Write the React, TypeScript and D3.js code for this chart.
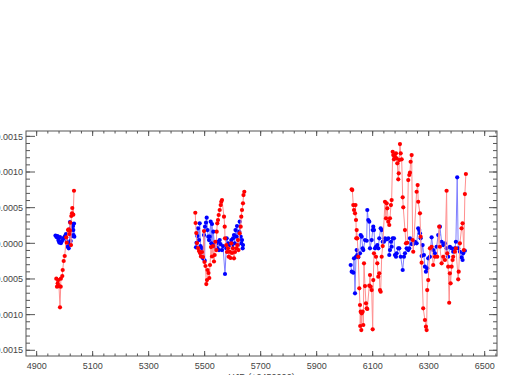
import React from 'react';
import * as d3 from 'd3';

// HJD - 2450000 and residuals (units of 1e-4 mag)
const redHJD = [
  4970.2, 4972.7, 4975.2, 4977.3, 4979.8, 4983.4, 4985.9, 4986.5, 4991.6, 4993.0, 4996.6, 5000.2, 5005.9,
  5007.3, 5012.0, 5014.5, 5016.6, 5019.1, 5020.2, 5022.7, 5023.8, 5026.3, 5027.3, 5030.9, 5033.4,
  5466.6, 5467.6, 5470.1, 5472.6, 5476.2, 5479.8, 5483.4, 5486.9, 5490.5, 5494.1, 5497.6, 5499.4, 5503.0,
  5505.9, 5508.4, 5510.1, 5513.7, 5516.6, 5519.1, 5522.6, 5526.2, 5529.8, 5533.3, 5535.8, 5538.0, 5541.6,
  5543.0, 5545.1, 5547.6, 5550.1, 5553.7, 5557.3, 5559.4, 5561.9, 5569.0, 5571.6, 5572.6, 5577.3, 5579.8,
  5583.3, 5585.8, 5589.4, 5592.3, 5595.1, 5597.6, 5601.2, 5604.8, 5608.3, 5613.0, 5616.5, 5619.0, 5620.8,
  5625.1, 5628.7, 5630.8, 5633.3, 5636.9, 5638.7, 5641.6,
  6025.1, 6027.2, 6030.8, 6033.3, 6036.9, 6038.6, 6040.4, 6041.5, 6042.9, 6045.1, 6048.6, 6052.2, 6054.7,
  6055.5, 6057.2, 6059.4, 6060.8, 6064.3, 6066.5, 6069.0, 6072.6, 6076.1, 6078.6, 6080.8, 6087.9, 6090.4,
  6092.9, 6096.5, 6100.1, 6102.2, 6104.7, 6111.8, 6116.5, 6120.1, 6123.6, 6126.1, 6128.6, 6132.2, 6135.8,
  6144.0, 6147.6, 6150.1, 6152.2, 6155.8, 6159.3, 6161.8, 6165.3, 6167.8, 6171.5, 6173.6, 6176.1, 6179.6,
  6183.2, 6185.7, 6187.9, 6191.4, 6193.2, 6195.0, 6197.5, 6200.0, 6203.6, 6207.2, 6209.3, 6215.3, 6218.9,
  6223.5, 6227.1, 6230.7, 6233.1, 6235.6, 6239.2, 6242.8, 6244.9, 6257.0, 6260.6, 6262.7, 6268.8, 6271.3,
  6274.8, 6280.5, 6286.6, 6290.2, 6292.7, 6294.8, 6298.4, 6304.4, 6310.5, 6316.2, 6322.3, 6330.5, 6337.6,
  6340.1, 6346.2, 6351.9, 6358.0, 6364.0, 6366.2, 6369.7, 6373.3, 6375.8, 6378.3, 6381.9, 6385.4, 6387.6,
  6393.6, 6397.2, 6405.4, 6407.2, 6411.5, 6417.5, 6421.1, 6425.7, 6429.3, 6432.9,
];
const redRes = [
  -4.96, -6.08, -5.61, -5.15, -5.99, -8.97, -6.08, -4.96, -4.58, -3.74, -2.48, -1.78, 0.84,
  0.08, 1.86, 1.96, 1.30, 1.77, 2.89, -0.24, 3.83, 4.21, 4.95, 4.01, 7.37,
  4.29, 2.85, 1.44, 0.04, -0.66, -1.08, -1.36, -1.85, -1.22, -1.92, 1.72, -2.62, -3.18,
  -5.71, -5.15, -3.74, -4.16, -4.86, -3.04, -0.52, -1.85, -0.38, -2.55, -1.64, 0.22, -0.94,
  1.63, 2.80, 3.27, 3.97, 4.67, 5.37, 5.83, 6.07, 3.73, 2.33, 0.70, -0.24, -1.22,
  -0.70, -1.88, -1.18, -2.06, 0.0, -1.36, -0.70, -2.10, -1.22, -0.70, -0.24, 0.46, -0.94,
  1.40, 2.33, 3.73, 4.67, 5.61, 6.77, 7.23,
  7.57, 7.47, 5.37, 4.67, 4.21, 5.37, 3.27, 0.70, 1.86, 0.70, -1.88, -6.31, -8.65,
  -11.59, -9.59, -12.16, -9.81, -9.59, -11.45, -2.80, -5.99, -8.41, -9.11, -9.21, -5.94, -4.44,
  -6.08, -6.55, -12.06, -5.15, -1.40, -1.88, -2.80, -4.68, -4.21, -6.55, -6.79, -1.88, -0.38,
  5.83, 3.51, 5.61, 4.91, 3.03, 2.57, 3.51, 5.37, 6.07, 12.84, 12.38, 11.78, 12.14,
  12.62, 11.92, 11.22, 8.97, 9.81, 11.68, 13.92, 12.62, 11.78, 6.45, 5.05, 1.86, 0.0,
  0.08, 8.87, 9.58, 9.90, 11.44, 12.38, 0.46, -1.18, 7.23, 8.17, 5.83, 4.21, 0.93,
  -2.72, -9.11, -10.75, -11.69, -12.16, -6.55, -5.15, -0.70, -0.48, -3.04, -1.88, -1.88, 2.33,
  -0.48, -2.80, -1.88, -2.34, 7.37, -1.40, -3.28, -8.33, -4.21, -5.61, -3.28, -2.34, -1.88,
  -1.18, -0.70, -5.05, -3.98, 0.0, 2.10, 2.80, -0.94, 6.91, 9.72,
];

const blueHJD = [
  4967.3, 4970.9, 4974.5, 4976.3, 4978.1, 4980.9, 4983.4, 4987.0, 4990.6, 4994.1, 4997.7, 5001.3, 5004.8,
  5007.3, 5010.9, 5014.5, 5017.3, 5019.1, 5021.6, 5023.8, 5026.3, 5028.1, 5029.8, 5030.9, 5031.6, 5033.4,
  5034.5,
  5469.1, 5470.9, 5473.7, 5476.2, 5479.8, 5482.3, 5485.1, 5488.0, 5490.5, 5494.1, 5497.6, 5500.1, 5501.2,
  5504.8, 5507.3, 5510.1, 5513.0, 5515.5, 5518.0, 5521.6, 5523.7, 5526.2, 5529.8, 5530.9, 5535.8, 5541.6,
  5544.0, 5547.6, 5551.2, 5553.7, 5556.6, 5561.9, 5565.5, 5572.6, 5577.3, 5578.7, 5584.4, 5589.4, 5595.1,
  5597.6, 5601.2, 5604.8, 5607.3, 5610.1, 5613.0, 5615.5, 5619.0, 5623.7, 5625.1, 5628.7, 5630.8, 5633.3,
  5635.8, 5636.9,
  6021.5, 6025.1, 6030.8, 6033.3, 6036.9, 6040.4, 6042.9, 6045.1, 6048.6, 6054.7, 6057.2, 6060.8, 6064.3,
  6066.5, 6072.6, 6078.6, 6080.8, 6084.3, 6087.9, 6090.4, 6096.5, 6100.1, 6102.2, 6104.7, 6108.3, 6111.8,
  6116.5, 6120.1, 6123.6, 6128.6, 6132.2, 6135.8, 6140.4, 6144.0, 6150.1, 6155.8, 6159.3, 6161.8, 6165.3,
  6167.8, 6171.5, 6176.1, 6179.6, 6183.2, 6185.7, 6191.4, 6195.0, 6200.0, 6207.2, 6211.8, 6215.3, 6221.4,
  6227.1, 6230.7, 6233.1, 6239.2, 6244.9, 6251.0, 6257.0, 6262.7, 6266.3, 6268.8, 6271.3, 6274.8, 6278.4,
  6283.0, 6286.6, 6290.2, 6294.8, 6298.4, 6304.4, 6310.5, 6316.2, 6322.3, 6328.3, 6334.0, 6340.1, 6346.2,
  6351.9, 6358.0, 6364.0, 6369.7, 6375.8, 6381.9, 6387.6, 6393.6, 6397.2, 6401.9, 6405.4, 6411.5, 6417.5,
  6421.1, 6423.2, 6429.3,
];
const blueRes = [
  1.09, 0.88, 1.02, 0.74, 0.39, 0.11, 0.88, 0.04, 0.32, 0.60, 0.81, 1.02, 1.30,
  0.32, -0.45, -0.70, 0.04, 2.99, 0.32, 2.14, 1.02, 2.71, 2.43, 1.86, 1.16, 2.78,
  0.93,
  -0.56, 0.08, 1.02, 2.10, 0.46, 2.80, -0.38, -1.64, -0.66, -2.10, 1.16, -2.44, 2.33,
  2.89, 3.59, 1.86, 0.93, 0.46, 0.93, 3.03, 0.0, 2.71, -0.24, 1.63, -0.48, 0.0,
  -0.66, 0.22, -0.94, 0.46, -0.10, -0.94, -0.38, -4.30, -0.70, 0.70, 0.0, -0.24, 0.46,
  -0.38, 0.70, 1.16, 0.0, 1.86, 0.93, 2.43, -0.24, 1.63, 3.03, 0.93, 0.0, 0.46,
  -0.70, -0.24,
  -3.04, -3.98, -4.12, -2.10, -7.01, -1.88, -0.94, -1.64, -1.96, -1.40, 1.16, 0.93, -0.70,
  -0.94, 0.46, 0.36, 4.67, 3.27, 3.03, -0.70, 0.46, 1.86, 2.33, 1.86, -0.70, -0.48,
  -0.24, -0.70, 0.70, 2.10, 1.86, 0.22, 0.22, 0.70, 0.56, 0.70, -1.64, -0.94, 0.22,
  -0.48, 0.70, 0.70, -1.64, -1.88, -1.40, -0.70, -0.70, -1.88, -3.74, -1.88, -1.40, -0.70,
  -0.94, -0.70, 0.70, -0.10, -0.10, 0.22, 0.0, 2.10, 1.86, 1.40, 0.70, -1.78, -0.24,
  -1.64, -3.28, -3.98, -3.51, -2.10, -1.88, 0.84, -0.94, -1.40, -0.48, 1.16, 2.33, 0.22,
  -0.24, 0.0, -0.70, -1.88, -0.48, -0.70, -1.18, -0.70, 0.22, 9.25, -0.70, -1.18, -1.96,
  -2.34, -1.40, -1.04,
];

const xMajor = [4900, 5100, 5300, 5500, 5700, 5900, 6100, 6300, 6500];
const yMajor = [-0.0015, -0.001, -0.0005, 0, 0.0005, 0.001, 0.0015];

const W = 525, H = 375;
const left = 26, right = 497, top = 131, bottom = 356;
const axisColor = '#555';
const textColor = '#444';

type Pt = { t: number; v: number };

// break the line where the time gap between seasons is large
function toSegments(ts: number[], vs: number[]): Pt[][] {
  const segs: Pt[][] = [];
  let cur: Pt[] = [];
  ts.forEach((t, i) => {
    if (cur.length && t - cur[cur.length - 1].t > 100) {
      segs.push(cur);
      cur = [];
    }
    cur.push({ t, v: vs[i] * 1e-4 });
  });
  if (cur.length) segs.push(cur);
  return segs;
}

export default function App() {
  const x = d3.scaleLinear().domain([4862, 6544]).range([left, right]);
  const y = d3.scaleLinear().domain([-0.00158, 0.001575]).range([bottom, top]);

  const line = d3.line<Pt>().x(d => x(d.t)).y(d => y(d.v));

  const xMinor = d3.range(4860, 6545, 40).filter(t => x(t) > left + 0.5 && x(t) < right - 0.5);
  const yMinor = d3.range(-15, 16, 1).map(k => k * 1e-4);

  const fmt = (v: number) => (Math.abs(v) < 1e-9 ? '0.0000' : d3.format('.4f')(v).replace('−', '-'));

  const series = [
    { ts: blueHJD, vs: blueRes, dot: '#0000ff', ln: '#7f7fff' },
    { ts: redHJD, vs: redRes, dot: '#ff0000', ln: '#ff8f8f' },
  ];

  return (
    <svg width={W} height={H} style={{ position: 'absolute', left: 0, top: 0, background: '#fff' }}
      fontFamily="'Liberation Sans', Arial, sans-serif">
      {series.map((s, si) => (
        <g key={si}>
          {toSegments(s.ts, s.vs).map((seg, k) => (
            <path key={k} d={line(seg) || ''} fill="none" stroke={s.ln} strokeWidth={1} />
          ))}
          {s.ts.map((t, i) => (
            <circle key={i} cx={x(t)} cy={y(s.vs[i] * 1e-4)} r={2.1} fill={s.dot} />
          ))}
        </g>
      ))}

      {/* frame */}
      <rect x={left} y={top} width={right - left} height={bottom - top} fill="none" stroke={axisColor} strokeWidth={1} />

      {/* x ticks, bottom and top */}
      {xMinor.map(t => (
        <g key={'xm' + t} stroke={axisColor} strokeWidth={1}>
          <line x1={x(t)} x2={x(t)} y1={bottom} y2={bottom - 2.5} />
          <line x1={x(t)} x2={x(t)} y1={top} y2={top + 2.5} />
        </g>
      ))}
      {xMajor.map(t => (
        <g key={'xM' + t}>
          <line x1={x(t)} x2={x(t)} y1={bottom} y2={bottom - 5} stroke={axisColor} />
          <line x1={x(t)} x2={x(t)} y1={top} y2={top + 5} stroke={axisColor} />
          <text x={x(t)} y={369} textAnchor="middle" fontSize={9} fill={textColor}>{t}</text>
        </g>
      ))}

      {/* y ticks, left and right */}
      {yMinor.map(v => (
        <g key={'ym' + v} stroke={axisColor} strokeWidth={1}>
          <line x1={left} x2={left + 4} y1={y(v)} y2={y(v)} />
          <line x1={right} x2={right - 4} y1={y(v)} y2={y(v)} />
        </g>
      ))}
      {yMajor.map(v => (
        <g key={'yM' + v}>
          <line x1={left} x2={left + 9} y1={y(v)} y2={y(v)} stroke={axisColor} />
          <line x1={right} x2={right - 8} y1={y(v)} y2={y(v)} stroke={axisColor} />
          <text x={23} y={y(v) + 3.2} textAnchor="end" fontSize={9} fill={textColor}>{fmt(v)}</text>
        </g>
      ))}

      <text x={(left + right) / 2} y={380} textAnchor="middle" fontSize={9} fill={textColor}>HJD (+2450000)</text>
    </svg>
  );
}
